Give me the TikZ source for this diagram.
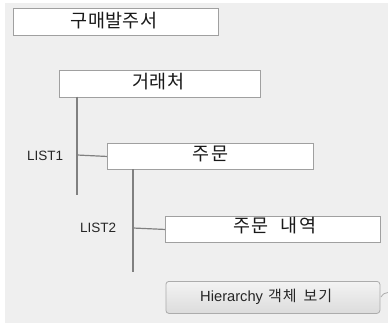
\documentclass[tikz,border=0pt]{standalone}
\usepackage{fontspec}
\setmainfont{Liberation Sans}
\newfontfamily\kr{Noto Sans CJK KR}
\definecolor{bg}{HTML}{EFEFEF}
\definecolor{bd}{HTML}{A0A0A0}
\definecolor{ln}{HTML}{808080}
\definecolor{btop}{HTML}{F3F3F3}
\definecolor{bbot}{HTML}{DCDCDC}
\definecolor{bbd}{HTML}{ACACAC}
\newcommand{\gp}[1]{\hspace{#1pt}}
\begin{document}
\begin{tikzpicture}[x=1pt,y=-1pt,
  fieldbox/.style={draw=bd,line width=0.9pt,fill=white,inner sep=0pt,anchor=north west},
  krtext/.style={font=\kr\fontsize{18.5}{20}\selectfont,inner sep=0pt,text=black!90},
  conn/.style={draw=ln,line width=1.2pt},
  lbl/.style={font=\fontsize{13.5}{15}\selectfont,inner sep=0pt,text=black!85}]
\useasboundingbox (0,0) rectangle (388,324);
\fill[white] (0,0) rectangle (388,324);
\fill[bg] (5,3) rectangle (388,323);
% boxes
\node[fieldbox,minimum width=205pt,minimum height=27pt] (b1) at (13,8) {};
\node[krtext] (t1) at (114,20.5) {구\gp{0.3}매\gp{0.3}발\gp{0.3}주\gp{0.3}서};
\node[fieldbox,minimum width=201pt,minimum height=27pt] (b2) at (59,70) {};
\node[krtext] (t2) at (158.5,81.5) {거\gp{0.3}래\gp{0.3}처};
\node[fieldbox,minimum width=206pt,minimum height=26pt] (b3) at (107,143) {};
\node[krtext] (t3) at (210.5,153.5) {주\gp{1.5}문};
\node[fieldbox,minimum width=215pt,minimum height=26pt] (b4) at (165,216) {};
\node[krtext] (t4) at (275,226) {주\gp{1}문\gp{12}내\gp{1}역};
% connectors
\coordinate (v1top) at (77,96.5);
\coordinate (v1bot) at (77,195);
\coordinate (h1) at (77,155);
\draw[conn] (v1top) -- (v1bot);
\draw[conn] (h1) -- (b3.west);
\coordinate (v2top) at (133,169);
\coordinate (v2bot) at (133,272);
\coordinate (h2) at (133,228);
\draw[conn] (v2top) -- (v2bot);
\draw[conn] (h2) -- (b4.west);
\node[lbl,anchor=west] (l1) at (27,156) {LIST1};
\node[lbl,anchor=west] (l2) at (80,228) {LIST2};
% button
\node[draw=bbd,line width=0.8pt,rounded corners=3pt,top color=btop,bottom color=bbot,
  minimum width=214pt,minimum height=32pt,inner sep=0pt,anchor=north west] (btn) at (165.5,281) {};
\node[inner sep=0pt,font=\fontsize{14.7}{16}\selectfont,text=black!85,anchor=west] (bt) at (200,297)
  {Hierarchy\gp{5}{\kr\fontsize{15}{16}\selectfont 객\gp{1}체\gp{7}보\gp{1}기}};
\coordinate (arcs) at (381,297);
\coordinate (arce) at (388,292.5);
\draw[bbd,line width=0.8pt] (arcs) .. controls (383,294) and (385,292.5) .. (arce);
\end{tikzpicture}
\end{document}
